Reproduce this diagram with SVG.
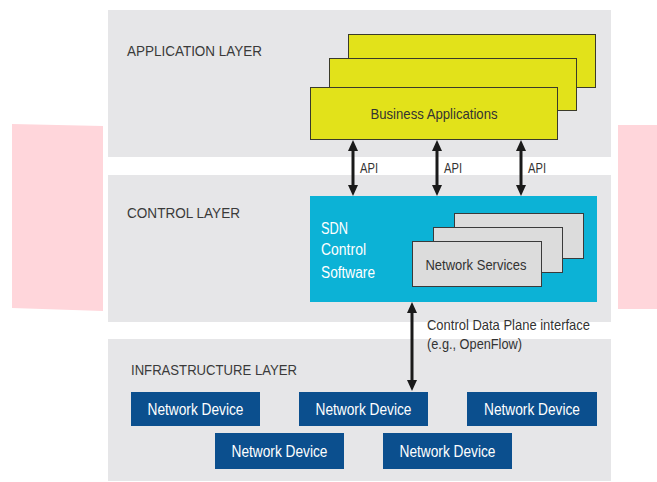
<svg xmlns="http://www.w3.org/2000/svg" width="657" height="482" viewBox="0 0 657 482">
<style>
.layer{fill:#e6e6e8}
.lbl{font-family:"Liberation Sans",Arial,sans-serif;font-size:15px;fill:#3a3a3a}
.app{fill:#e2e21a;stroke:#3a3a2a;stroke-width:1}
.svc{fill:#dcdcdc;stroke:#3a3a3a;stroke-width:1}
.dev{fill:#0b4f8e}
.devt{font-family:"Liberation Sans",Arial,sans-serif;font-size:16px;fill:#ffffff;text-anchor:middle}
.t{font-family:"Liberation Sans",Arial,sans-serif;font-size:15px;fill:#333333}
.w{font-family:"Liberation Sans",Arial,sans-serif;font-size:16px;fill:#ffffff}
.shaft{stroke:#1a1a1a;stroke-width:3;fill:none;marker-start:url(#ah);marker-end:url(#ah)}
</style>
<defs>
<marker id="ah" markerUnits="userSpaceOnUse" markerWidth="12" markerHeight="12" viewBox="0 -6 11 12" refX="0" refY="0" orient="auto-start-reverse">
<path d="M0,-5 L11,0 L0,5 Z" fill="#1a1a1a"/>
</marker>
</defs>
<rect width="657" height="482" fill="#ffffff"/>
<polygon points="12,124 103,126 103,311 12,308" fill="#ffd6db"/>
<polygon points="618,125 657,125 657,309 618,309" fill="#ffd6db"/>

<g id="application-layer">
<rect class="layer" x="108" y="10" width="503" height="147"/>
<text class="lbl" x="127" y="56" textLength="135" lengthAdjust="spacingAndGlyphs">APPLICATION LAYER</text>
</g>
<g id="business-applications">
<rect class="app" x="348.5" y="34.5" width="247" height="53"/>
<rect class="app" x="329.5" y="58.5" width="247" height="52"/>
<rect class="app" x="310.5" y="87.5" width="247" height="52"/>
<text class="t" x="434" y="119" text-anchor="middle" textLength="127" lengthAdjust="spacingAndGlyphs">Business Applications</text>
</g>

<g id="control-layer">
<rect class="layer" x="108" y="175" width="503" height="147"/>
<text class="lbl" x="127" y="218" textLength="113" lengthAdjust="spacingAndGlyphs">CONTROL LAYER</text>
</g>
<g id="sdn-control-software">
<rect x="310" y="196" width="287" height="106" fill="#0cb2d6"/>
<text class="w" x="321" y="234" textLength="27" lengthAdjust="spacingAndGlyphs">SDN</text>
<text class="w" x="321" y="255" textLength="45" lengthAdjust="spacingAndGlyphs">Control</text>
<text class="w" x="321" y="278" textLength="54" lengthAdjust="spacingAndGlyphs">Software</text>
</g>
<g id="network-services">
<rect class="svc" x="454.5" y="213.5" width="129" height="45"/>
<rect class="svc" x="433.5" y="227.5" width="129" height="45"/>
<rect class="svc" x="412.5" y="241.5" width="129" height="45"/>
<text class="t" x="476" y="270" text-anchor="middle" textLength="101" lengthAdjust="spacingAndGlyphs">Network Services</text>
</g>

<g id="infrastructure-layer">
<rect class="layer" x="108" y="339" width="503" height="142"/>
<text class="lbl" x="131" y="375" textLength="166" lengthAdjust="spacingAndGlyphs">INFRASTRUCTURE LAYER</text>
</g>
<g id="device-1"><rect class="dev" x="131" y="392" width="129" height="34"/><text class="devt" x="195.5" y="415" textLength="96" lengthAdjust="spacingAndGlyphs">Network Device</text></g>
<g id="device-2"><rect class="dev" x="299" y="392" width="129" height="34"/><text class="devt" x="363.5" y="415" textLength="96" lengthAdjust="spacingAndGlyphs">Network Device</text></g>
<g id="device-3"><rect class="dev" x="467" y="392" width="130" height="34"/><text class="devt" x="532" y="415" textLength="96" lengthAdjust="spacingAndGlyphs">Network Device</text></g>
<g id="device-4"><rect class="dev" x="215" y="433" width="129" height="36"/><text class="devt" x="279.5" y="457" textLength="96" lengthAdjust="spacingAndGlyphs">Network Device</text></g>
<g id="device-5"><rect class="dev" x="383" y="433" width="129" height="36"/><text class="devt" x="447.5" y="457" textLength="96" lengthAdjust="spacingAndGlyphs">Network Device</text></g>

<g id="connectors">
<line class="shaft" x1="353" y1="151" x2="353" y2="185"/>
<line class="shaft" x1="437" y1="151" x2="437" y2="185"/>
<line class="shaft" x1="521" y1="151" x2="521" y2="185"/>
<text class="t" x="360" y="173" textLength="18" lengthAdjust="spacingAndGlyphs">API</text>
<text class="t" x="444" y="173" textLength="18" lengthAdjust="spacingAndGlyphs">API</text>
<text class="t" x="528" y="173" textLength="18" lengthAdjust="spacingAndGlyphs">API</text>
<line class="shaft" x1="412" y1="313" x2="412" y2="380"/>
<text class="t" x="427" y="330" textLength="163" lengthAdjust="spacingAndGlyphs">Control Data Plane interface</text>
<text class="t" x="427" y="349" textLength="95" lengthAdjust="spacingAndGlyphs">(e.g., OpenFlow)</text>
</g>
</svg>
